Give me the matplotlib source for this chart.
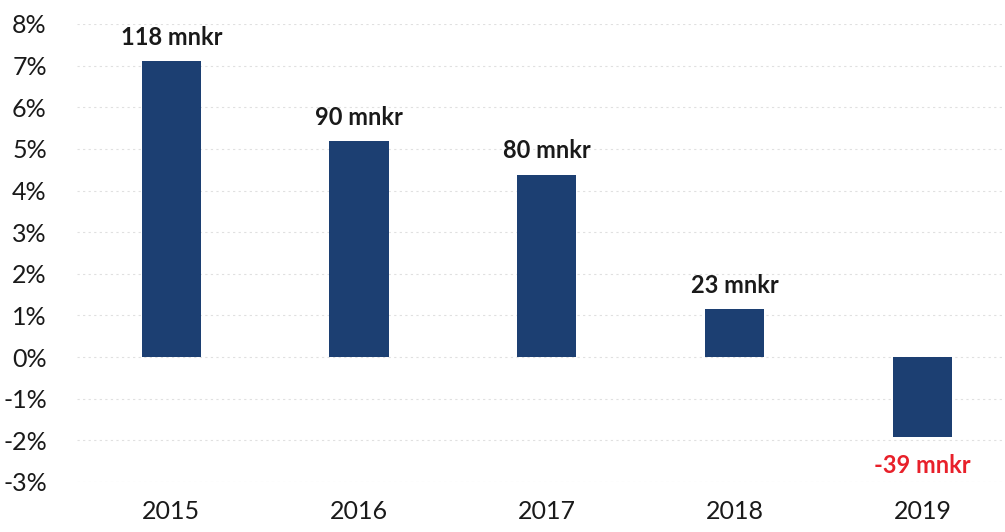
import matplotlib.pyplot as plt
from matplotlib.ticker import FuncFormatter

plt.rcParams['font.family'] = ['Lato', 'DejaVu Sans']

years = ["2015", "2016", "2017", "2018", "2019"]
growth_pct = [7.1, 5.18, 4.38, 1.15, -1.92]
labels = ["118 mnkr", "90 mnkr", "80 mnkr", "23 mnkr", "-39 mnkr"]
label_colors = ["#1a1a1a", "#1a1a1a", "#1a1a1a", "#1a1a1a", "#e8202a"]

fig = plt.figure(figsize=(10.05, 5.32), dpi=100)
ax = fig.add_axes([0.077, 0.094, 0.923, 0.861])

x = range(len(years))
ax.bar(x, growth_pct, width=0.315, color="#1c3f72", zorder=3)

for i, (v, lab, c) in enumerate(zip(growth_pct, labels, label_colors)):
    if v >= 0:
        ax.annotate(lab, (i, v), xytext=(0, 9), textcoords="offset points",
                    ha="center", va="bottom", fontsize=17, fontweight="bold", color=c)
    else:
        ax.annotate(lab, (i, v), xytext=(0, -12), textcoords="offset points",
                    ha="center", va="top", fontsize=17, fontweight="bold", color=c)

ax.set_ylim(-3, 8)
ax.set_xlim(-0.5, 4.44)
ax.set_yticks(range(-3, 9))
ax.yaxis.set_major_formatter(FuncFormatter(lambda v, p: f"{v:.0f}%"))
ax.set_xticks(list(x))
ax.set_xticklabels(years)
ax.tick_params(axis="both", length=0, labelsize=18, colors="#1a1a1a")
ax.tick_params(axis="x", pad=13)
ax.tick_params(axis="y", pad=22)
ax.grid(axis="y", color="#e0e0e0", linestyle=(0, (2, 3)), linewidth=0.8, zorder=0)
for s in ax.spines.values():
    s.set_visible(False)

fig.savefig("out.png", dpi=100)
